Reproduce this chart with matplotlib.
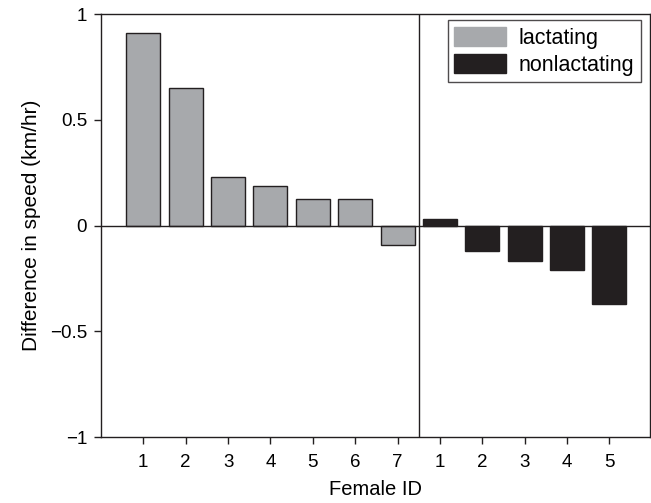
import matplotlib
matplotlib.use("Agg")
import matplotlib.pyplot as plt
import numpy as np

plt.rcParams['font.family'] = ['Liberation Sans', 'DejaVu Sans']

# datos
lactating_ids = ["1", "2", "3", "4", "5", "6", "7"]
lactating_vals = [0.91, 0.65, 0.23, 0.185, 0.125, 0.125, -0.093]
nonlact_ids = ["1", "2", "3", "4", "5"]
nonlact_vals = [0.031, -0.118, -0.168, -0.212, -0.37]

gris = "#a7a9ac"
negro = "#231f20"

fig = plt.figure(figsize=(6.51, 5.03), dpi=100)
ax = fig.add_axes([0.155, 0.131, 0.843, 0.841])

x_lac = np.arange(1, len(lactating_vals) + 1)
x_non = np.arange(len(lactating_vals) + 1, len(lactating_vals) + len(nonlact_vals) + 1)

ax.bar(x_lac, lactating_vals, width=0.8, color=gris, edgecolor=negro, linewidth=1, label="lactating")
ax.bar(x_non, nonlact_vals, width=0.8, color=negro, edgecolor=negro, linewidth=1, label="nonlactating")

ax.axhline(0, color=negro, linewidth=1)
ax.axvline(len(lactating_vals) + 0.5, color=negro, linewidth=1)

ax.set_xlim(0, 12.95)
ax.set_ylim(-1, 1)
ax.set_xticks(np.concatenate([x_lac, x_non]))
ax.set_xticklabels(lactating_ids + nonlact_ids)
ax.set_yticks([-1, -0.5, 0, 0.5, 1])
ax.set_yticklabels(["\u22121", "\u22120.5", "0", "0.5", "1"])
ax.tick_params(labelsize=13.5, direction="out", length=5, width=1, color=negro)
ax.tick_params(axis="x", pad=7)
ax.tick_params(axis="y", pad=5)
ax.set_xlabel("Female ID", fontsize=14.5, labelpad=7)
ax.set_ylabel("Difference in speed (km/hr)", fontsize=15, labelpad=6)
for s in ax.spines.values():
    s.set_color(negro)
    s.set_linewidth(1)

leg = ax.legend(loc="upper right", fontsize=15.5, fancybox=False, edgecolor=negro,
                handlelength=2.4, handleheight=1.0, borderpad=0.3, labelspacing=0.25,
                handletextpad=0.6, borderaxespad=0,
                bbox_to_anchor=(0.9836, 0.9858))
leg.get_frame().set_linewidth(1)
leg.legend_handles[0].set_edgecolor(gris)

fig.savefig("out.png", dpi=100)
